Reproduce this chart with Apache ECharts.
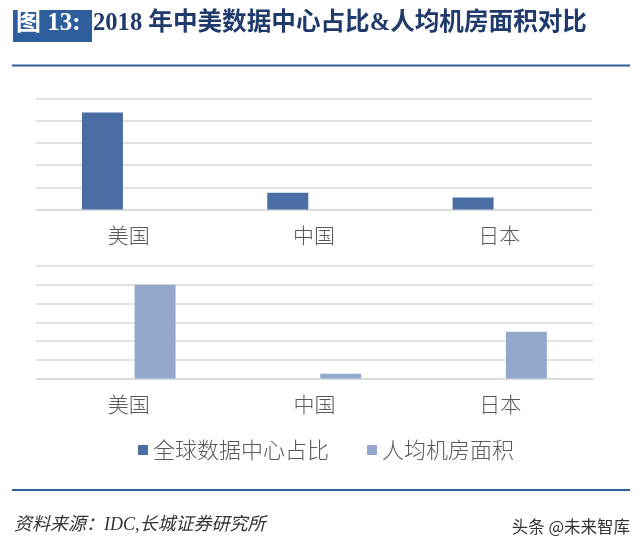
<!DOCTYPE html>
<html>
<head>
<meta charset="utf-8">
<script src="https://cdn.jsdelivr.net/npm/echarts@6/dist/echarts.min.js"></script>
<style>
html,body{margin:0;padding:0;background:#fff;}
#c{width:640px;height:551px;}
</style>
</head>
<body>
<div id="c"></div>
<script>
var categories = ['美国', '中国', '日本'];
var shareValues = [43.7, 7.5, 5.4];      // 全球数据中心占比 (%)
var areaValues = [5.0, 0.25, 2.5];       // 人均机房面积
var seriesNames = ['全球数据中心占比', '人均机房面积'];
var titleText = '2018 年中美数据中心占比&人均机房面积对比';
var figLabel = '图 13:';
var sourceText = '资料来源：IDC,长城证券研究所';
var watermark = '头条 @未来智库';

var darkBlue = '#4a6da4';
var lightBlue = '#93a8cb';
var empty = categories.map(function(){ return null; });
var cjk = '"Liberation Serif", "Noto Sans CJK SC", serif';
var labelFont = '"Noto Sans CJK SC", sans-serif';

var chart = echarts.init(document.getElementById('c'), null, {renderer: 'canvas'});

function xAx(idx) {
  return {
    type: 'category', gridIndex: idx, data: categories,
    axisLine: {show: true, lineStyle: {color: '#d9d9d9', width: 1.5}},
    axisTick: {show: false},
    axisLabel: {color: '#595959', fontSize: 21, margin: 15, fontFamily: labelFont, fontWeight: 300}
  };
}
function yAx(idx, max, interval) {
  return {
    type: 'value', gridIndex: idx, min: 0, max: max, interval: interval,
    axisLabel: {show: false}, axisLine: {show: false}, axisTick: {show: false},
    splitLine: {lineStyle: {color: '#d9d9d9', width: 1.5}}
  };
}
function bar(name, xi, data, color) {
  return {
    type: 'bar', name: name, xAxisIndex: xi, yAxisIndex: xi, data: data,
    barWidth: 41, barGap: '28%',
    itemStyle: {color: color}, silent: true
  };
}

chart.setOption({
  animation: false,
  backgroundColor: '#ffffff',
  grid: [
    {left: 36, right: 48, top: 98.5, height: 111},
    {left: 36, right: 47, top: 266, height: 112.5}
  ],
  xAxis: [xAx(0), xAx(1)],
  yAxis: [yAx(0, 50, 10), yAx(1, 6, 1)],
  legend: {
    data: seriesNames,
    left: 133, top: 434,
    icon: 'rect', itemWidth: 10, itemHeight: 10, itemGap: 38,
    textStyle: {color: '#595959', fontSize: 22, fontFamily: labelFont, fontWeight: 300}
  },
  series: [
    bar(seriesNames[0], 0, shareValues, darkBlue),
    bar(seriesNames[1], 0, empty, lightBlue),
    bar(seriesNames[0], 1, empty, darkBlue),
    bar(seriesNames[1], 1, areaValues, lightBlue)
  ],
  graphic: [
    {type: 'rect', shape: {x: 13, y: 10, width: 79, height: 32}, style: {fill: '#2e5f9c'}},
    {type: 'text', left: 16, top: 11, style: {text: figLabel, fill: '#ffffff', font: 'bold 25px ' + cjk}},
    {type: 'text', left: 93, top: 11, style: {text: titleText, fill: '#1f3a6b', font: 'bold 24.6px ' + cjk}},
    {type: 'rect', shape: {x: 12, y: 64.5, width: 618, height: 2}, style: {fill: '#2f5d96'}},
    {type: 'rect', shape: {x: 12, y: 489, width: 618, height: 2}, style: {fill: '#2f5d96'}},
    {type: 'text', left: 14, top: 516, style: {text: sourceText, fill: '#333333', font: 'italic 18px ' + cjk}},
    {type: 'text', right: 10, top: 518, style: {text: watermark, fill: '#333333', font: '16.5px ' + labelFont}}
  ]
});
</script>
</body>
</html>
